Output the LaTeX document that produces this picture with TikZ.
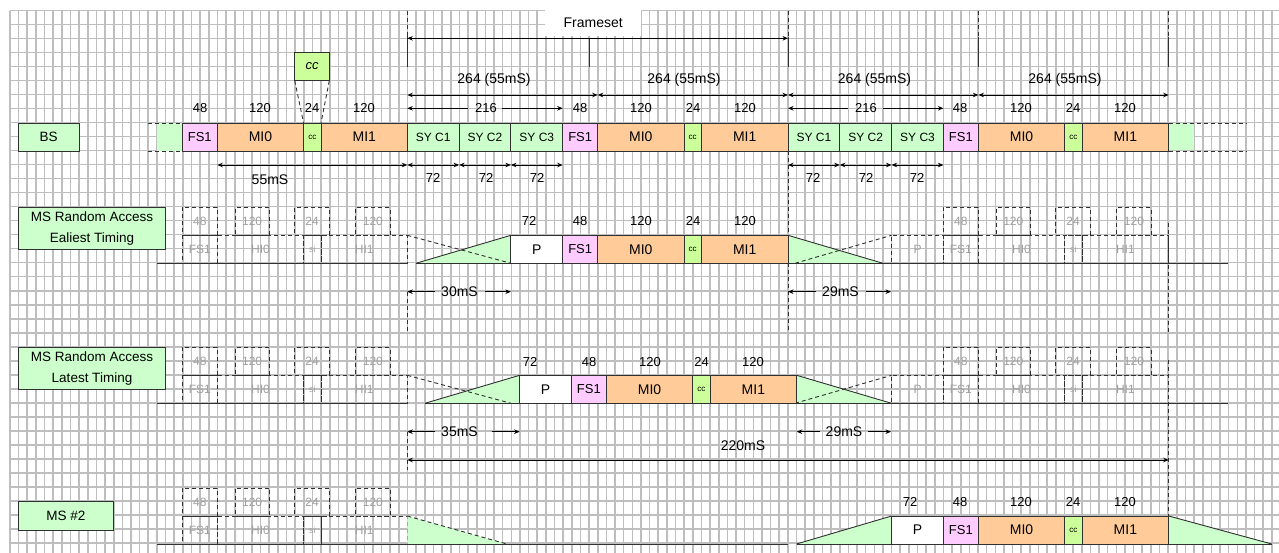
\documentclass[tikz,border=0pt]{standalone}
\usepackage{fontspec}
\setmainfont{Liberation Sans}
\usetikzlibrary{arrows.meta}
\definecolor{gridc}{HTML}{BEBEBE}
\definecolor{lgreen}{HTML}{CCFFCC}
\definecolor{lpink}{HTML}{FFCCFF}
\definecolor{lorange}{HTML}{FFCC99}
\definecolor{llime}{HTML}{CCFF99}
\definecolor{ghostc}{HTML}{A0A0A0}
\definecolor{edge}{HTML}{303030}
\newcommand\bx[7]{\node[#6, minimum width={(#3)-(#2)}, minimum height={(#5)-(#4)}, anchor=north west] (#1) at ({#2},{#4}) {#7};}
\newcommand\frm[4]{%
\bx{#1fs}{#2}{#2+35}{#3}{#4}{fsb}{FS1}%
\bx{#1ma}{#2+35}{#2+121.3}{#3}{#4}{mib}{MI0}%
\bx{#1cc}{#2+121.3}{#2+138.7}{#3}{#4}{ccb}{cc}%
\bx{#1mb}{#2+138.7}{#2+225.3}{#3}{#4}{mib}{MI1}}
\newcommand\ghst[3]{%
\bx{#1ua}{#2}{#2+35}{#3}{#3+28}{gb}{48}%
\bx{#1ub}{#2+52.7}{#2+87}{#3}{#3+28}{gb}{120}%
\bx{#1uc}{#2+112.4}{#2+147}{#3}{#3+28}{gb}{24}%
\bx{#1ud}{#2+173.4}{#2+207.7}{#3}{#3+28}{gb}{120}%
\bx{#1la}{#2}{#2+35}{#3+28}{#3+56}{gb}{FS1}%
\bx{#1lb}{#2+35}{#2+121.3}{#3+28}{#3+56}{gb}{HI0}%
\bx{#1lc}{#2+121.3}{#2+138.7}{#3+28}{#3+56}{gb,font=\fontsize{9}{10}\selectfont}{si}%
\bx{#1ld}{#2+138.7}{#2+225.3}{#3+28}{#3+56}{gb}{HI1}}
\def\xA{407.3}
\def\xB{788}
\def\xC{1168.7}
\begin{document}
\begin{tikzpicture}[x=1pt,y=-1pt,
  >={Stealth[length=5.5pt,width=4.5pt]},
  gridln/.style={draw=gridc,line width=1.6pt},
  blk/.style={draw=edge,line width=0.9pt,inner sep=0pt,outer sep=0pt,font=\fontsize{13}{15}\selectfont},
  fsb/.style={blk,fill=lpink},
  mib/.style={blk,fill=lorange,font=\fontsize{14}{16}\selectfont},
  ccb/.style={blk,fill=llime,font=\fontsize{8}{9}\selectfont},
  syb/.style={blk,fill=lgreen,font=\fontsize{12}{14}\selectfont},
  pb/.style={blk,fill=white,font=\fontsize{14}{16}\selectfont},
  lab/.style={blk,fill=lgreen,align=center,font=\fontsize{13.5}{21}\selectfont},
  gb/.style={draw=edge,dash pattern=on 4pt off 3pt,line width=0.9pt,inner sep=0pt,outer sep=0pt,text=ghostc,font=\fontsize{12}{14}\selectfont},
  vd/.style={draw=edge,dash pattern=on 4pt off 3pt,line width=0.9pt},
  sl/.style={draw=edge,line width=0.9pt},
  dim/.style={draw=black,line width=0.9pt},
  num/.style={inner sep=0pt,font=\fontsize{13}{15}\selectfont},
  big/.style={inner sep=0pt,font=\fontsize{14}{16}\selectfont},
  tri/.style={fill=lgreen,draw=edge,line width=0.9pt}]
\useasboundingbox (0,0) rectangle (1279,553);
\fill[white] (0,0) rectangle (1279,553);
% grid
\foreach \i in {0,...,146} \draw[gridln] ({10+\i*8.643},10.7) -- ({10+\i*8.643},553);
\foreach \j in {0,...,38} \draw[gridln] (10,{10.7+\j*14}) -- (1279,{10.7+\j*14});

% ---------- top: frameset ----------
\node[fill=white,inner sep=0pt,minimum width=96,minimum height=26,anchor=north west,font=\fontsize{14}{16}\selectfont] (fset) at (545,10) {Frameset};
\draw[vd] (\xA,10.7) -- (\xA,33);
\draw[vd] (\xB,10.7) -- (\xB,37);
\draw[vd] (978.4,10.7) -- (978.4,37);
\draw[vd] (\xC,10.7) -- (\xC,37);
\draw[sl] (\xA,33) -- (\xA,66.7);
\draw[sl] (589,38.3) -- (589,66.7);
\draw[sl] (\xB,37) -- (\xB,66.7);
\draw[sl] (978.4,37) -- (978.4,66.7);
\draw[sl] (\xC,37) -- (\xC,66.7);
\draw[dim,<->] (\xA,38.3) -- (\xB,38.3);

% 264 arrows
\draw[dim,<->] (\xA,95) -- (597.7,95);
\draw[dim,<->] (597.7,95) -- (\xB,95);
\draw[dim,<->] (\xB,95) -- (978.4,95);
\draw[dim,<->] (978.4,95) -- (\xC,95);
\foreach \x [count=\i] in {494,684,874.5,1065} \node[big] (t\i) at (\x,80) {264 (55mS)};

% 216 arrows
\draw[dim,<-] (\xA,108.3) -- (468,108.3);
\draw[dim,->] (502,108.3) -- (562.7,108.3);
\draw[dim,<-] (\xB,108.3) -- (848,108.3);
\draw[dim,->] (883,108.3) -- (943.4,108.3);
\node[num] (s1) at (486,108.3) {216};
\node[num] (s2) at (866,108.3) {216};
\foreach \x/\t [count=\i] in {200/48,260/120,312/24,364/120,580/48,641/120,693/24,745/120,960/48,1021/120,1073/24,1125/120}
  \node[num] (b\i) at (\x,108.3) {\t};

% ---------- BS row ----------
\bx{lbs}{18.3}{79}{123}{151}{lab}{BS}
\fill[lgreen] (157,123) rectangle (182.3,151);
\draw[vd] (148,123) -- (182.3,123);
\draw[vd] (148,151) -- (182.3,151);
\frm{fa}{182.3}{123}{151}
\bx{sa1}{407.3}{459.1}{123}{151}{syb}{SY C1}
\bx{sa2}{459.1}{510.9}{123}{151}{syb}{SY C2}
\bx{sa3}{510.9}{562.7}{123}{151}{syb}{SY C3}
\frm{fb}{562.7}{123}{151}
\bx{sb1}{788}{839.8}{123}{151}{syb}{SY C1}
\bx{sb2}{839.8}{891.6}{123}{151}{syb}{SY C2}
\bx{sb3}{891.6}{943.4}{123}{151}{syb}{SY C3}
\frm{fc}{943.4}{123}{151}
\fill[lgreen] (1169.2,123.5) rectangle (1194,150.5);
\draw[vd] (1168.7,123) -- (1247,123);
\draw[vd] (1168.7,151) -- (1247,151);

% cc callout
\bx{ccx}{294.7}{329.3}{52.3}{80.7}{blk,fill=llime,font=\fontsize{13}{15}\selectfont\itshape}{cc}
\draw[vd] (ccx.south west) -- (facc.north west);
\draw[vd] (ccx.south east) -- (facc.north east);

% below BS dims
\draw[dim,<->] (217.3,165) -- (\xA,165);
\node[big] (d55) at (270,180) {55mS};
\draw[dim,<->] (\xA,165) -- (459.1,165);
\draw[dim,<->] (459.1,165) -- (510.9,165);
\draw[dim,<->] (510.9,165) -- (562.7,165);
\draw[dim,<->] (\xB,165) -- (839.8,165);
\draw[dim,<->] (839.8,165) -- (891.6,165);
\draw[dim,<->] (891.6,165) -- (943.4,165);
\foreach \x [count=\i] in {433,486,537,813,866,917} \node[num] (e\i) at (\x,178) {72};

% ---------- dashed guides ----------
\draw[vd] (\xA,291.7) -- (\xA,333);
\draw[vd] (\xA,431.7) -- (\xA,470);
\draw[vd] (\xB,151) -- (\xB,235.3);
\draw[vd] (\xB,263.3) -- (\xB,333);
\draw[vd] (\xC,223) -- (\xC,333);
\draw[vd] (\xC,360) -- (\xC,516);

% ---------- Row 1: earliest ----------
\node[lab,minimum width=147.4,minimum height=42,anchor=north west] (lr1) at (18.3,207.3) {MS Random Access\\Ealiest Timing};
\ghst{ga}{182.3}{207.3}
\fill[lgreen] (416,263.3) -- (510.9,235.3) -- (510.9,263.3) -- cycle;
\fill[lgreen] (788,235.3) -- (788,263.3) -- (883,263.3) -- cycle;
\draw[vd] (407.3,235.3) -- (510.9,263.3);
\draw[vd] (795,263.3) -- (891.6,235.3);
\draw[sl] (416,263.3) -- (510.9,235.3);
\draw[sl] (788,235.3) -- (883,263.3);
\bx{pa}{510.9}{562.7}{235.3}{263.3}{pb}{P}
\frm{ra}{562.7}{235.3}{263.3}
\bx{gpa}{891.6}{943.4}{235.3}{263.3}{gb}{P}
\ghst{gb}{943.4}{207.3}
\draw[sl] (157,263.3) -- (\xA,263.3);
\draw[sl] (416,263.3) -- (510.9,263.3);
\draw[sl] (\xB,263.3) -- (1228.3,263.3);
\foreach \x/\t [count=\i] in {529/72,580/48,641/120,693/24,745/120} \node[num] (f\i) at (\x,220.7) {\t};
\draw[dim,<-] (\xA,291.7) -- (435,291.7);
\node[big] (m30) at (459.5,291.7) {30mS};
\draw[dim,->] (485,291.7) -- (510.9,291.7);
\draw[dim,<-] (\xB,291.7) -- (816,291.7);
\node[big] (m29a) at (840.5,291.7) {29mS};
\draw[dim,->] (865.7,291.7) -- (891,291.7);

% ---------- Row 2: latest ----------
\node[lab,minimum width=147.4,minimum height=42,anchor=north west] (lr2) at (18.3,347.3) {MS Random Access\\Latest Timing};
\ghst{gc}{182.3}{347.3}
\fill[lgreen] (425,403.3) -- (519.6,375.3) -- (519.6,403.3) -- cycle;
\fill[lgreen] (796.7,375.3) -- (796.7,403.3) -- (891.5,403.3) -- cycle;
\draw[vd] (407.3,375.3) -- (510.9,403.3);
\draw[vd] (795,403.3) -- (891.6,375.3);
\draw[sl] (425,403.3) -- (519.6,375.3);
\draw[sl] (796.7,375.3) -- (891.5,403.3);
\bx{pb2}{519.6}{571.4}{375.3}{403.3}{pb}{P}
\frm{rb}{571.4}{375.3}{403.3}
\bx{gpb}{891.6}{943.4}{375.3}{403.3}{gb}{P}
\ghst{gd}{943.4}{347.3}
\draw[sl] (157,403.3) -- (\xA,403.3);
\draw[sl] (425,403.3) -- (519.6,403.3);
\draw[sl] (796.7,403.3) -- (1228.3,403.3);
\foreach \x/\t [count=\i] in {530/72,589/48,650/120,701.5/24,753/120} \node[num] (g\i) at (\x,361.7) {\t};
\draw[dim,<-] (\xA,431.7) -- (435,431.7);
\node[big] (m35) at (459.5,431.7) {35mS};
\draw[dim,->] (491.7,431.7) -- (519.6,431.7);
\draw[dim,<-] (796.7,431.7) -- (820,431.7);
\node[big] (m29b) at (844,431.7) {29mS};
\draw[dim,->] (868,431.7) -- (891,431.7);
\draw[dim,<->] (\xA,460) -- (\xC,460);
\node[big] (m220) at (743,446) {220mS};

% ---------- Row 3: MS #2 ----------
\bx{lr3}{18.3}{113.3}{501.7}{530}{lab}{MS \#2}
\ghst{ge}{182.3}{488}
\fill[lgreen] (407.3,516) -- (407.3,544) -- (506.7,544) -- cycle;
\draw[vd] (407.3,516) -- (506.7,544);
\fill[lgreen] (796.5,544) -- (891.6,516) -- (891.6,544) -- cycle;
\fill[lgreen] (1168.7,516) -- (1168.7,544) -- (1271.7,544) -- cycle;
\draw[sl] (796.5,544) -- (891.6,516);
\draw[sl] (1168.7,516) -- (1271.7,544);
\bx{pc}{891.6}{943.4}{516}{544}{pb}{P}
\frm{rc}{943.4}{516}{544}
\draw[sl] (157,544) -- (788.3,544);
\draw[sl] (796.5,544) -- (1271.7,544);
\foreach \x/\t [count=\i] in {910/72,960/48,1021/120,1073/24,1125/120} \node[num] (h\i) at (\x,501.7) {\t};
\end{tikzpicture}
\end{document}
